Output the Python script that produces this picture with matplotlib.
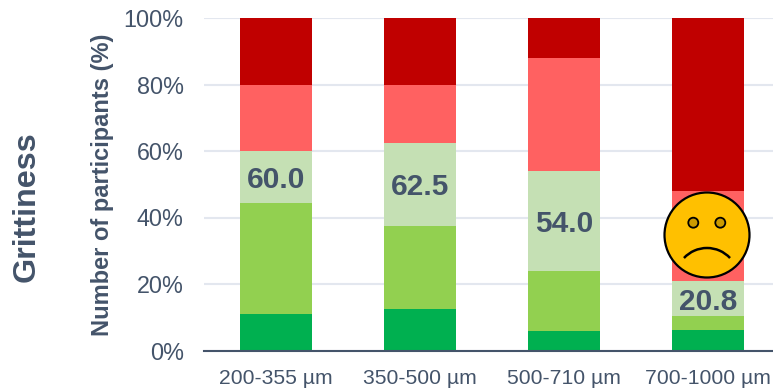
import numpy as np
import matplotlib
matplotlib.use("Agg")
import matplotlib.pyplot as plt
from matplotlib.patches import Circle, Arc

plt.rcParams['font.family'] = ['Liberation Sans', 'DejaVu Sans']

sizes = ['200-355 µm', '350-500 µm', '500-710 µm', '700-1000 µm']
dark_green = [11.1, 12.5, 6.0, 6.2]
light_green = [33.3, 25.0, 18.0, 4.2]
pale_green = [15.6, 25.0, 30.0, 10.4]
salmon = [20.0, 17.5, 34.0, 27.2]
dark_red = [20.0, 20.0, 12.0, 52.0]
totals = [60.0, 62.5, 54.0, 20.8]
yticks = [0, 20, 40, 60, 80, 100]

W, H = 773, 390
text_col = '#44546A'
grid_col = '#E3E7EF'

fig = plt.figure(figsize=(W / 100, H / 100), dpi=100)
# the category axis runs past the right edge of the figure
ax = fig.add_axes([204 / W, 1 - 350.5 / H, 576 / W, 332.5 / H])

x = np.arange(len(sizes))
bottom = np.zeros(len(sizes))
layers = [(dark_green, '#00B050'), (light_green, '#92D050'), (pale_green, '#C5E0B4'),
          (salmon, '#FF6161'), (dark_red, '#C00000')]
for vals, col in layers:
    ax.bar(x, vals, 0.5, bottom=bottom, color=col, zorder=2)
    if col == '#C5E0B4':
        mids = bottom + np.array(vals) / 2
    bottom = bottom + np.array(vals)

for i in range(len(sizes)):
    ax.text(x[i], mids[i], '%.1f' % totals[i], ha='center', va='center_baseline',
            fontsize=21.5, fontweight='bold', color=text_col, zorder=3)

ax.set_xlim(-0.5, 3.5)
ax.set_ylim(0, 100)
ax.set_xticks(x)
ax.set_xticklabels(sizes, fontsize=15.2, color=text_col)
ax.set_yticks(yticks)
ax.set_yticklabels(['%d%%' % t for t in yticks], fontsize=16.8, color=text_col)
ax.tick_params(axis='both', length=0)
ax.tick_params(axis='x', pad=13.5)
ax.tick_params(axis='y', pad=14.5)
ax.grid(axis='y', color=grid_col, lw=1.5, zorder=0)
ax.set_axisbelow(True)
for s in ['top', 'right', 'left']:
    ax.spines[s].set_visible(False)
ax.spines['bottom'].set_color(text_col)
ax.spines['bottom'].set_linewidth(1.5)
ax.spines['bottom'].set_zorder(4)

fig.text(102.5 / W, 1 - 184.5 / H, 'Number of participants (%)', rotation=90, ha='center', va='center',
         fontsize=17, fontweight='bold', color=text_col)
fig.text(26.5 / W, 1 - 206.5 / H, 'Grittiness', rotation=90, ha='center', va='center',
         fontsize=23.2, fontweight='bold', color=text_col)

# sad face, laid out in pixels on a transparent overlay
ov = fig.add_axes([0, 0, 1, 1])
ov.set_xlim(0, W)
ov.set_ylim(H, 0)
ov.axis('off')
ov.add_patch(Circle((707, 235), 42.5, fc='#FFC000', ec='black', lw=1.6))
for ex in (693.3, 720.3):
    ov.add_patch(Circle((ex, 222.7), 5, fc='#CC9A00', ec='black', lw=1.3))
ov.add_patch(Arc((707, 279.5), 63, 63, theta1=223, theta2=317, ec='black', lw=1.8))

fig.savefig('out.png', dpi=100)
